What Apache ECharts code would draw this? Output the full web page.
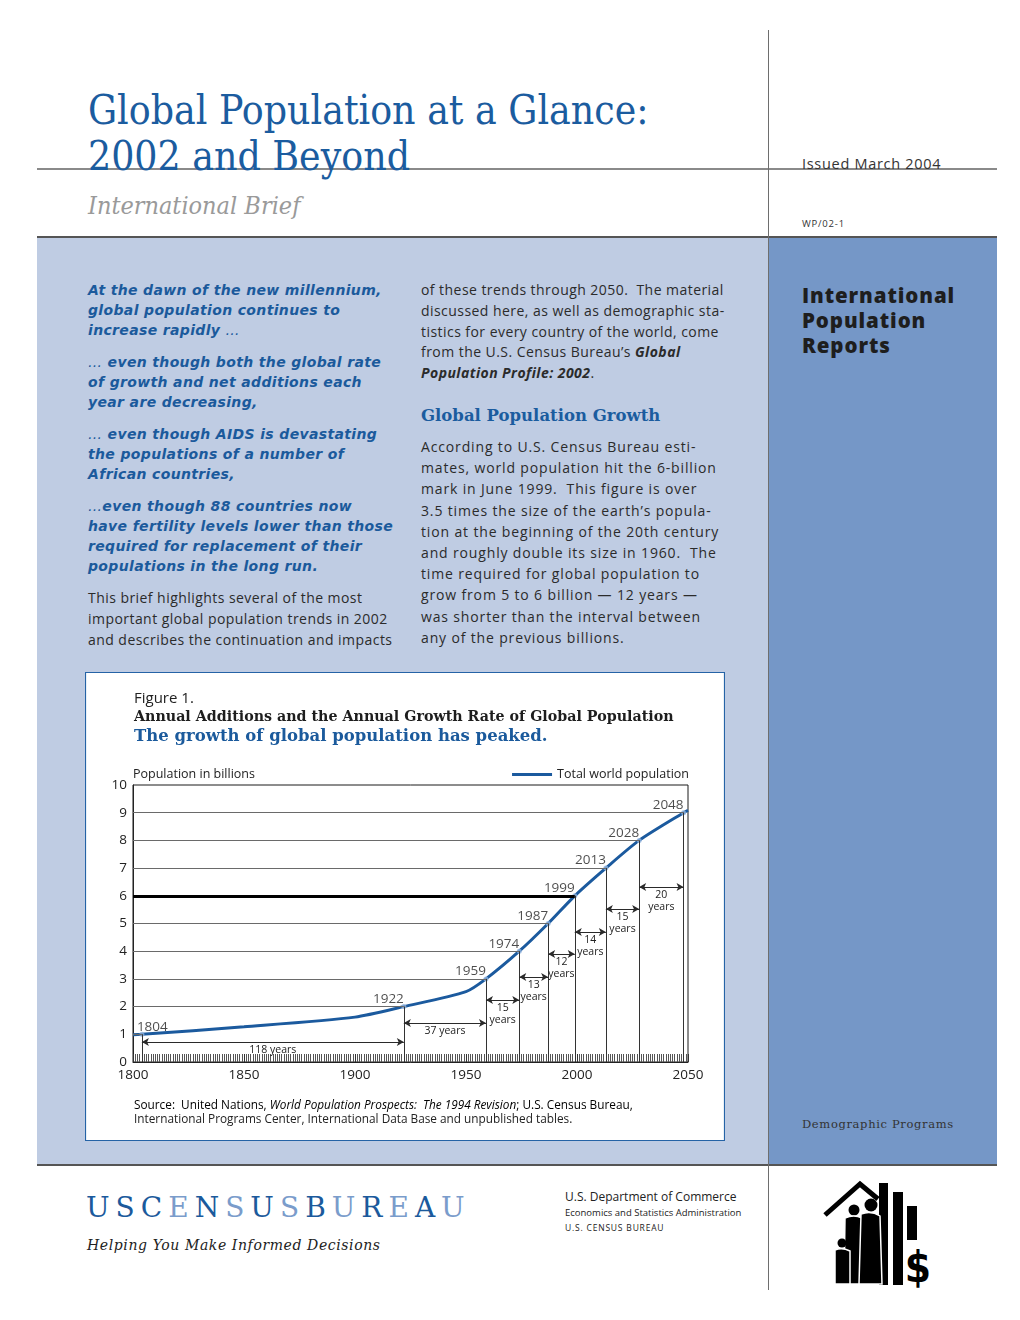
<!DOCTYPE html>
<html><head><meta charset="utf-8">
<script src="https://cdn.jsdelivr.net/npm/echarts@6/dist/echarts.min.js"></script>
<style>
html,body{margin:0;padding:0;background:#fff;}
#page{position:relative;width:1020px;height:1320px;overflow:hidden;font-family:"Open Sans",sans-serif;}
.abs{position:absolute;white-space:pre;}
.lp{position:absolute;left:37px;top:237px;width:731px;height:928px;background:#bfcce3;}
.rp{position:absolute;left:769px;top:237px;width:228px;height:928px;background:#7597c7;}
.hl{position:absolute;height:1px;background:#6e6e6e;}
.vl{position:absolute;width:1px;background:#6e6e6e;}
.title{font-family:"DejaVu Serif Condensed","DejaVu Serif",serif;font-stretch:condensed;color:#1b5c9f;font-size:40.5px;left:88px;}
.lead{left:88px;color:#1b5a9c;font-family:"DejaVu Sans",sans-serif;font-weight:700;font-style:italic;font-size:14px;line-height:20px;letter-spacing:0.35px;}
.body{color:#2b2b2b;font-size:14px;}
</style></head>
<body><div id="page">
<div class="lp"></div><div class="rp"></div>
<div class="hl" style="left:37px;top:168px;width:960px;height:2px;background:#8a8a8a"></div>
<div class="hl" style="left:37px;top:236px;width:960px;height:2px;background:#555"></div>
<div class="hl" style="left:37px;top:1164px;width:960px;height:2px;background:#555"></div>
<div class="vl" style="left:768px;top:30px;height:1260px;"></div>

<div class="abs title" style="top:86px;line-height:48px;">Global Population at a Glance:</div>
<div class="abs title" style="top:132px;line-height:48px;">2002 and Beyond</div>
<div class="abs" style="left:88px;top:190px;line-height:32px;font-family:'DejaVu Serif Condensed','DejaVu Serif',serif;font-stretch:condensed;font-style:italic;font-size:25px;color:#9a9a9a;">International Brief</div>
<div class="abs" style="left:802px;top:154px;line-height:20px;font-size:14.5px;color:#333;letter-spacing:0.7px;">Issued March 2004</div>
<div class="abs" style="left:802px;top:218px;line-height:12px;font-size:9.5px;color:#333;letter-spacing:0.8px;">WP/02-1</div>
<div class="abs" style="left:802px;top:283px;line-height:25px;font-size:20.5px;font-weight:800;color:#1e1e1e;letter-spacing:0.9px;">International
Population
Reports</div>
<div class="abs" style="left:802px;top:1116px;line-height:16px;font-family:'DejaVu Serif',serif;font-size:11.5px;color:#333;letter-spacing:0.65px;">Demographic Programs</div>

<div class="abs lead" style="top:280px;">At the dawn of the new millennium,
global population continues to
increase rapidly <span style="font-weight:400">…</span></div>
<div class="abs lead" style="top:352px;"><span style="font-weight:400">…</span> even though both the global rate
of growth and net additions each
year are decreasing,</div>
<div class="abs lead" style="top:424px;"><span style="font-weight:400">…</span> even though AIDS is devastating
the populations of a number of
African countries,</div>
<div class="abs lead" style="top:496px;"><span style="font-weight:400">…</span>even though 88 countries now
have fertility levels lower than those
required for replacement of their
populations in the long run.</div>
<div class="abs body" style="left:88px;top:587px;line-height:21px;letter-spacing:0.45px;">This brief highlights several of the most
important global population trends in 2002
and describes the continuation and impacts</div>

<div class="abs body" style="left:421px;top:280px;line-height:20.8px;letter-spacing:0.45px;">of these trends through 2050.  The material
discussed here, as well as demographic sta-
tistics for every country of the world, come
from the U.S. Census Bureau’s <b><i>Global</i></b>
<b><i>Population Profile: 2002</i></b>.</div>
<div class="abs" style="left:421px;top:405px;line-height:22px;font-family:'DejaVu Serif',serif;font-weight:700;font-size:16.5px;color:#1b5c9f;">Global Population Growth</div>
<div class="abs body" style="left:421px;top:436px;line-height:21.2px;letter-spacing:0.85px;">According to U.S. Census Bureau esti-
mates, world population hit the 6-billion
mark in June 1999.  This figure is over
3.5 times the size of the earth’s popula-
tion at the beginning of the 20th century
and roughly double its size in 1960.  The
time required for global population to
grow from 5 to 6 billion — 12 years —
was shorter than the interval between
any of the previous billions.</div>

<div id="chart" style="position:absolute;left:85px;top:672px;width:640px;height:469px;background:#fff;"></div>

<div class="abs" style="left:86px;top:1190px;line-height:36px;font-family:'DejaVu Serif',serif;font-size:28px;letter-spacing:6px;"><span style="color:#1b5a9c">USC</span><span style="color:#7a9ccb">E</span><span style="color:#1b5a9c">N</span><span style="color:#7a9ccb">S</span><span style="color:#1b5a9c">U</span><span style="color:#7a9ccb">S</span><span style="color:#1b5a9c">B</span><span style="color:#7a9ccb">U</span><span style="color:#1b5a9c">R</span><span style="color:#7a9ccb">E</span><span style="color:#1b5a9c">A</span><span style="color:#7a9ccb">U</span></div>
<div class="abs" style="left:87px;top:1235px;line-height:20px;font-family:'DejaVu Serif',serif;font-style:italic;font-size:14px;color:#222;letter-spacing:0.6px;">Helping You Make Informed Decisions</div>
<div class="abs" style="left:565px;top:1189px;line-height:16px;font-size:12px;color:#222;">U.S. Department of Commerce</div>
<div class="abs" style="left:565px;top:1206px;line-height:14px;font-size:9.5px;color:#222;">Economics and Statistics Administration</div>
<div class="abs" style="left:565px;top:1222px;line-height:12px;font-size:8.5px;color:#222;letter-spacing:0.8px;">U.S. CENSUS BUREAU</div>

<svg style="position:absolute;left:820px;top:1178px" width="115" height="110" viewBox="820 1178 115 110">
  <polyline points="825,1215 860,1184 878,1199" fill="none" stroke="#000" stroke-width="5"/>
  <rect x="879" y="1183" width="9" height="102" fill="#000"/>
  <rect x="893" y="1192" width="10" height="93" fill="#000"/>
  <rect x="907" y="1206" width="10" height="79" fill="#000"/>
  <circle cx="854" cy="1210" r="5.5" fill="#000"/>
  <circle cx="871" cy="1205" r="6.5" fill="#000"/>
  <path d="M845 1218 Q854 1214 862 1218 L864 1284 L844 1284 Z" fill="#000" stroke="#fff" stroke-width="1.5"/>
  <path d="M861 1214 Q871 1210 880 1216 L882 1284 L859 1284 Z" fill="#000" stroke="#fff" stroke-width="1.5"/>
  <circle cx="842" cy="1243" r="4.5" fill="#000"/>
  <path d="M835 1250 Q842 1247 850 1251 L850 1284 L835 1284 Z" fill="#000" stroke="#fff" stroke-width="1.5"/>
  <rect x="905" y="1240" width="27" height="47" fill="#fff"/>
  <text x="918" y="1282" text-anchor="middle" font-family="DejaVu Sans Condensed, DejaVu Sans" font-weight="700" font-size="42" fill="#000">$</text>
</svg>
</div>

<script>
// ---- data ----
const years      = [1800, 1804, 1850, 1900, 1922, 1950, 1959, 1974, 1987, 1999, 2013, 2028, 2048, 2050];
const population = [0.98, 1.00, 1.27, 1.62, 2.00, 2.54, 3.00, 4.00, 5.00, 6.00, 7.00, 8.00, 9.00, 9.08];
const milestoneYears    = [1804, 1922, 1959, 1974, 1987, 1999, 2013, 2028, 2048];
const milestoneBillions = [1, 2, 3, 4, 5, 6, 7, 8, 9];
const intervalLabels = ['118 years', '37 years', '15\nyears', '13\nyears', '12\nyears', '14\nyears', '15\nyears', '20\nyears'];
const arrowLevels = [0.72, 1.41, 2.24, 3.07, 3.90, 4.69, 5.52, 6.32];
const xTicks = [1800, 1850, 1900, 1950, 2000, 2050];
const yTicks = [0, 1, 2, 3, 4, 5, 6, 7, 8, 9, 10];

const SANS = '"Open Sans", sans-serif';
const SERIF = '"DejaVu Serif", serif';

const chart = echarts.init(document.getElementById('chart'), null, {renderer: 'canvas'});

const gridLines = milestoneBillions.map((v, i) => [
  {coord: [xTicks[0], v], lineStyle: v === 6 ? {color: '#000', width: 3, type: 'solid'} : {color: '#6a6a6a', width: 1.2, type: 'solid'}},
  {coord: [milestoneYears[i], v]}
]);
const dropLines = milestoneBillions.map((v, i) => [
  {coord: [milestoneYears[i], v], lineStyle: {color: '#333', width: 1, type: 'solid'}},
  {coord: [milestoneYears[i], 0]}
]);
const arrows = intervalLabels.map((t, i) => [
  {coord: [milestoneYears[i], arrowLevels[i]], label: {formatter: t}},
  {coord: [milestoneYears[i + 1], arrowLevels[i]]}
]);

const option = {
  animation: false,
  textStyle: {fontFamily: SANS},
  grid: {left: 48, right: 37, top: 113, bottom: 79, show: true, borderColor: '#1a1a1a', borderWidth: 1},
  legend: {
    right: 31, top: 91, icon: 'rect', itemWidth: 40, itemHeight: 3, itemGap: 8,
    data: ['Total world population'],
    textStyle: {fontFamily: SANS, fontSize: 12.5, color: '#222', padding: [0, 0, 0, 0]}
  },
  xAxis: {
    type: 'value', min: xTicks[0], max: xTicks[xTicks.length - 1], interval: 50,
    axisLine: {lineStyle: {color: '#222', width: 1}},
    axisTick: {show: true, inside: true, length: 8, lineStyle: {color: '#333'}},
    minorTick: {show: true, splitNumber: 50, length: 8, lineStyle: {color: '#555', width: 1}},
    splitLine: {show: false},
    axisLabel: {color: '#222', fontSize: 13.5, margin: 6, fontFamily: SANS, formatter: v => String(v)}
  },
  yAxis: {
    type: 'value', min: yTicks[0], max: yTicks[yTicks.length - 1], interval: 1,
    name: 'Population in billions', nameLocation: 'end', nameGap: 4,
    nameTextStyle: {align: 'left', fontSize: 12.5, color: '#222', fontFamily: SANS, padding: [0, 0, 0, 0]},
    axisLine: {show: true, lineStyle: {color: '#222'}},
    axisTick: {show: false},
    splitLine: {show: false},
    axisLabel: {color: '#222', fontSize: 13.5, margin: 6, fontFamily: SANS}
  },
  graphic: [
    {type: 'rect', shape: {x: 0.5, y: 0.5, width: 639, height: 468}, style: {fill: 'none', stroke: '#2563a6', lineWidth: 1.2}, silent: true},
    {type: 'text', x: 49, y: 27, style: {text: 'Figure 1.', font: '15px ' + SANS, fill: '#222', verticalAlign: 'middle'}},
    {type: 'text', x: 49, y: 45, style: {text: 'Annual Additions and the Annual Growth Rate of Global Population', font: 'bold 14.25px ' + SERIF, fill: '#1e1e1e', verticalAlign: 'middle'}},
    {type: 'text', x: 49, y: 65, style: {text: 'The growth of global population has peaked.', font: 'bold 16.5px ' + SERIF, fill: '#1b5a9c', verticalAlign: 'middle'}},
    {type: 'text', x: 49, y: 434, style: {
      text: '{n|Source:  United Nations, }{i|World Population Prospects:  The 1994 Revision}{n|; U.S. Census Bureau,}',
      verticalAlign: 'middle',
      rich: {n: {fontFamily: SANS, fontSize: 11.8, color: '#222'}, i: {fontFamily: SANS, fontSize: 11.8, fontStyle: 'italic', color: '#222'}}
    }},
    {type: 'text', x: 49, y: 448, style: {text: 'International Programs Center, International Data Base and unpublished tables.', font: '11.8px ' + SANS, fill: '#222', verticalAlign: 'middle'}}
  ],
  series: [
    {
      name: 'annotations', type: 'line', data: [], z: 1, silent: true,
      markLine: {
        silent: true, animation: false, symbol: ['none', 'none'],
        label: {show: false},
        data: gridLines.concat(dropLines)
      }
    },
    {
      name: 'intervals', type: 'line', data: [], z: 1, silent: true,
      markLine: {
        silent: true, animation: false, symbol: ['arrow', 'arrow'], symbolSize: [6, 7],
        lineStyle: {color: '#2a2a2a', width: 1, type: 'solid'},
        label: {show: true, position: 'insideMiddleBottom', distance: 2, fontSize: 10.5, lineHeight: 12, color: '#222', fontFamily: SANS},
        data: arrows
      }
    },
    {
      name: 'Total world population', type: 'line', z: 3,
      data: years.map((y, i) => [y, population[i]]),
      showSymbol: false, symbol: 'none', smooth: 0.25,
      itemStyle: {color: '#1b5a9e'},
      lineStyle: {color: '#1b5a9e', width: 3}
    },
    {
      name: 'milestones', type: 'scatter', z: 4, symbolSize: 5,
      itemStyle: {color: '#8fb1dc'},
      data: milestoneYears.map((y, i) => {
        const d = {value: [y, milestoneBillions[i]]};
        if (i === 0) d.label = {align: 'left', offset: [-5, 4]};
        return d;
      }),
      label: {
        show: true, position: 'top', align: 'right', distance: 2, offset: [0, 4],
        formatter: p => String(p.value[0]), fontSize: 13.5, color: '#1e1e1e', fontFamily: SANS
      }
    }
  ]
};
chart.setOption(option);
</script>
</body></html>
